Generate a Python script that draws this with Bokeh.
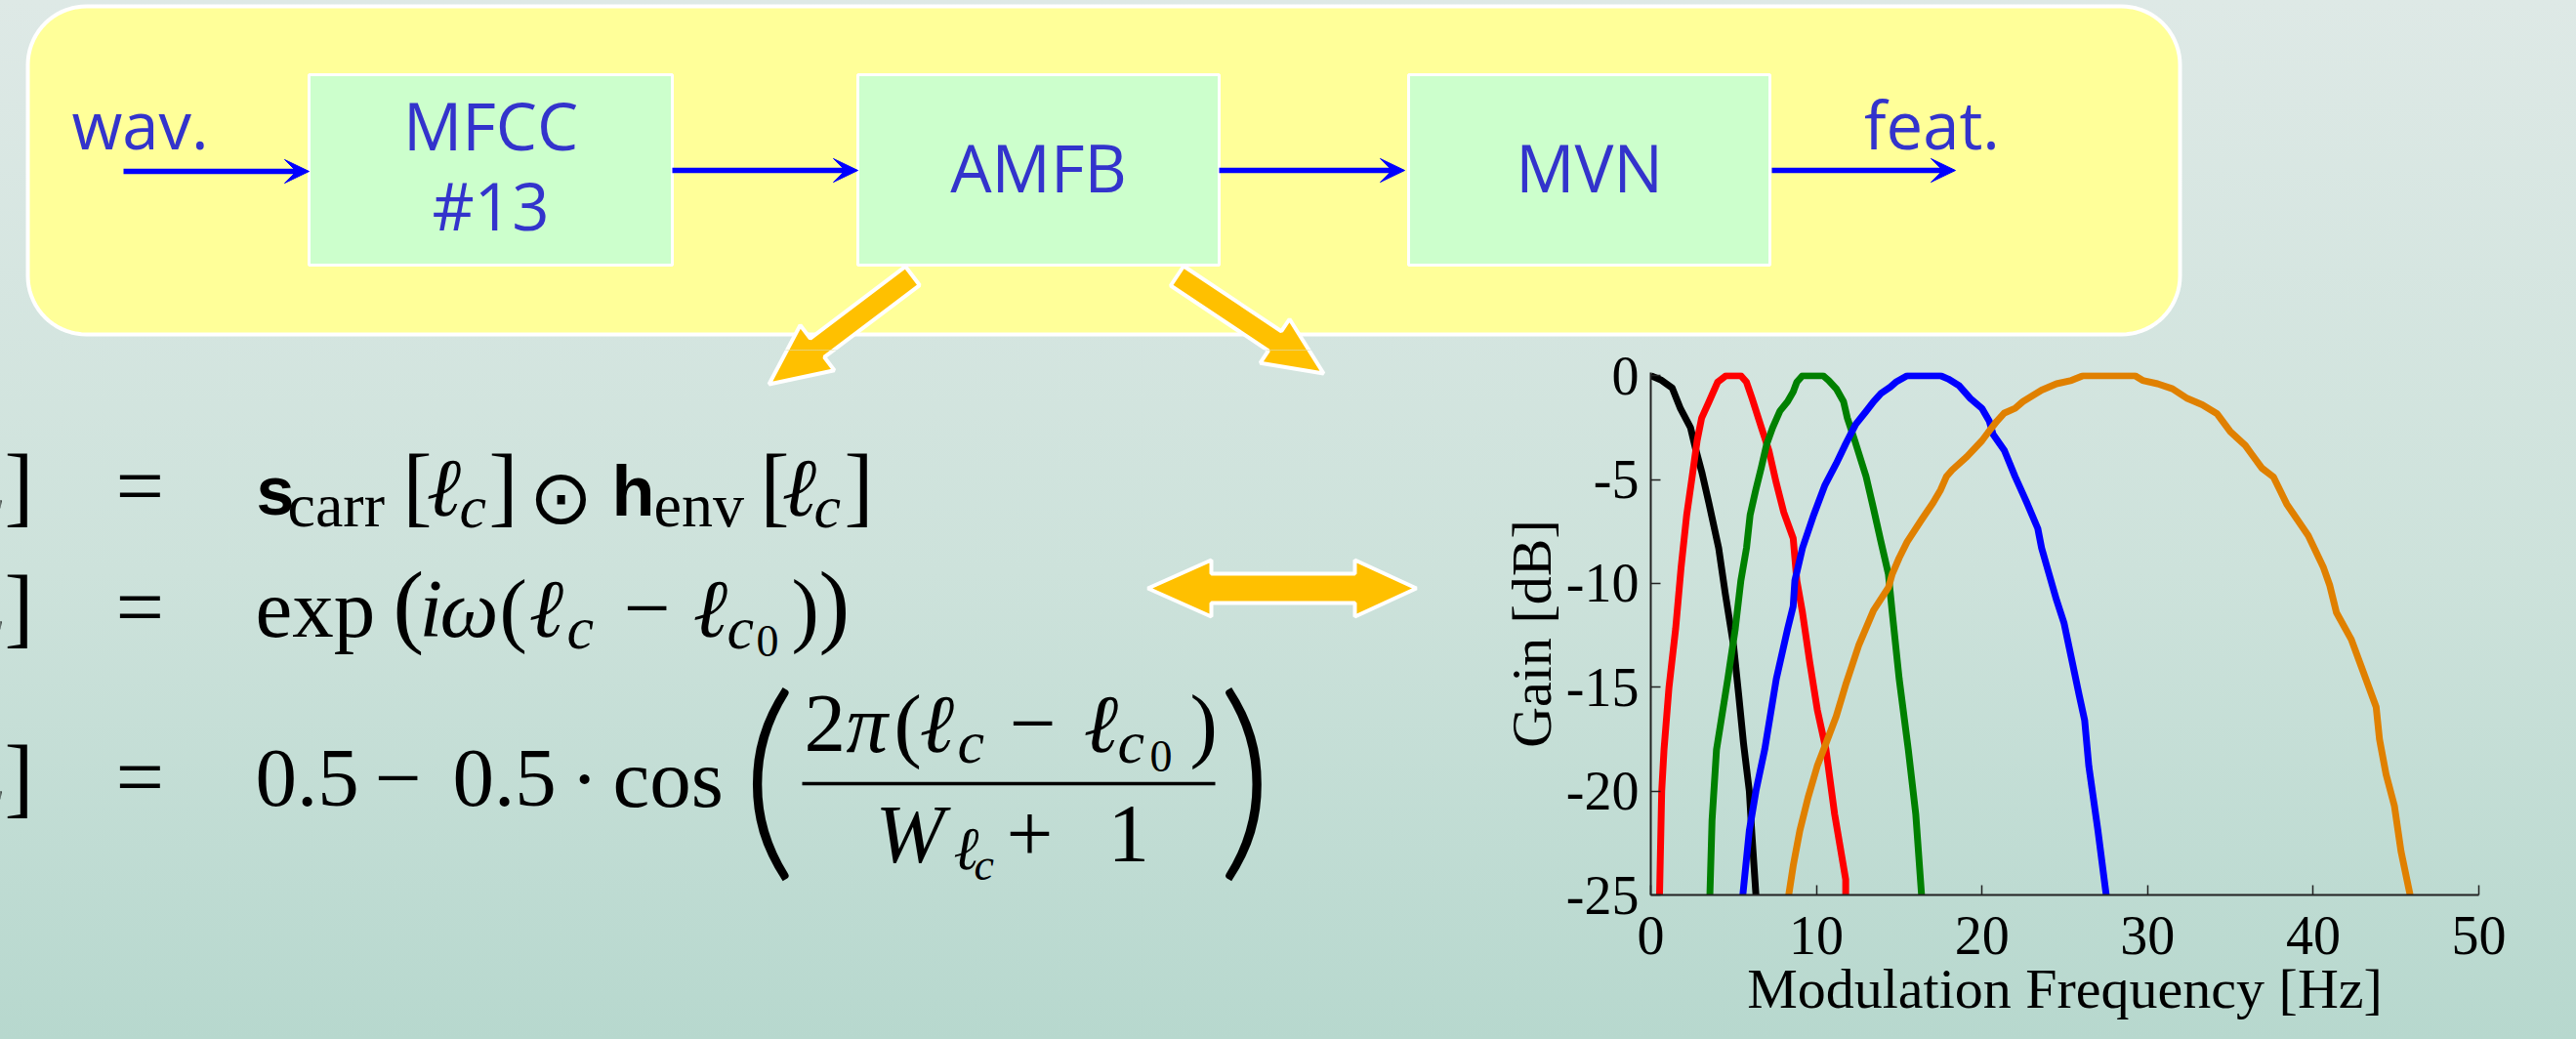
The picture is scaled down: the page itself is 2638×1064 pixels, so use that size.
import math
from bokeh.plotting import figure
from bokeh.models import Range1d, FixedTicker
from bokeh.layouts import column, row
from bokeh.embed import file_html
from bokeh.resources import INLINE
from bokeh.core.properties import value

# ---------------- chart data ----------------
freq_ticks = [0, 10, 20, 30, 40, 50]
gain_ticks = [-25, -20, -15, -10, -5, 0]
gain_tick_labels = ["-25", "-20", "-15", "-10", "-5", "0"]
x_label = "Modulation Frequency [Hz]"
y_label = "Gain [dB]"

black_hz = [0.0, 0.6, 1.3, 1.8, 2.4, 2.7, 3.1, 3.5, 4.1, 4.5, 5.0, 5.3, 5.6, 5.95, 6.1, 6.35]
black_db = [0.0, -0.2, -0.6, -1.6, -2.5, -3.5, -4.7, -6.1, -8.3, -10.5, -13.0, -15.3, -17.7, -20.0, -22.0, -25.0]

red_hz = [0.53, 0.66, 0.8, 1.1, 1.5, 1.83, 2.17, 2.5, 2.8, 3.07, 3.52, 4.04, 4.54, 5.44, 5.78, 6.12,
          6.68, 7.13, 7.58, 8.03, 8.6, 8.82, 9.16, 9.6, 10.06, 10.58, 11.1, 11.77, 11.77]
red_db = [-25.0, -20.0, -18.0, -15.0, -12.2, -9.24, -6.7, -4.86, -3.13, -2.04, -1.25, -0.31, 0.0, 0.0, -0.31, -1.1,
          -2.5, -3.6, -5.17, -6.58, -7.83, -9.87, -11.4, -13.8, -16.1, -18.0, -21.1, -24.25, -25.0]

green_hz = [3.57, 3.7, 3.97, 4.65, 5.1, 5.44, 5.78, 6.0, 6.34, 6.68, 7.0, 7.36, 7.8, 8.26, 8.6, 8.82,
            9.16, 10.4, 10.74, 11.2, 11.64, 11.87, 12.32, 13.0, 13.45, 13.9, 14.35, 14.58, 15.0, 15.55, 16.0, 16.35]
green_db = [-25.0, -21.4, -18.0, -14.6, -12.2, -9.87, -8.3, -6.7, -5.5, -4.4, -3.3, -2.5, -1.7, -1.25, -0.78, -0.31,
            0.0, 0.0, -0.23, -0.63, -1.25, -2.04, -3.13, -4.86, -6.4, -8.0, -9.55, -11.4, -14.6, -18.0, -21.1, -25.0]

blue_hz = [5.56, 5.95, 6.35, 6.88, 7.58, 8.26, 8.6, 8.7, 9.16, 9.84, 10.5, 11.2, 11.76, 12.37, 13.0, 13.45,
           13.9, 14.46, 14.8, 15.48, 17.5, 17.96, 18.6, 19.3, 19.99, 20.44, 20.67, 21.35, 22.0, 22.7, 23.37,
           23.6, 24.05, 24.5, 24.95, 25.4, 25.86, 26.2, 26.45, 27.0, 27.5]
blue_db = [-25.0, -21.9, -20.0, -18.0, -14.6, -12.2, -11.1, -9.87, -8.3, -6.7, -5.3, -4.23, -3.3, -2.35, -1.72, -1.25,
           -0.86, -0.55, -0.31, 0.0, 0.0, -0.16, -0.47, -1.1, -1.57, -2.19, -2.82, -3.6, -4.86, -6.1, -7.36,
           -8.3, -9.55, -10.8, -11.9, -13.6, -15.35, -16.6, -18.8, -21.9, -25.0]

orange_hz = [8.33, 8.6, 9.0, 9.5, 10.05, 10.58, 11.2, 11.8, 12.55, 13.45, 14.35, 14.58, 15.0, 15.48, 16.38,
             17.06, 17.5, 17.85, 18.2, 19.09, 20.0, 20.44, 20.9, 21.35, 22.0, 22.47, 23.6, 24.5, 25.4, 26.1,
             29.24, 29.7, 30.6, 31.5, 32.4, 33.3, 34.2, 35.0, 35.9, 36.3, 36.9, 37.6, 38.0, 38.4, 39.7, 40.6,
             41.0, 41.4, 42.3, 42.9, 43.8, 44.0, 44.4, 44.9, 45.3, 45.85]
orange_db = [-25.0, -23.6, -21.9, -20.3, -18.8, -17.7, -16.4, -14.8, -13.0, -11.3, -10.2, -9.55, -8.77, -8.0, -6.9,
             -6.1, -5.5, -4.86, -4.54, -3.9, -3.13, -2.66, -2.19, -1.8, -1.57, -1.25, -0.7, -0.39, -0.23, 0.0,
             0.0, -0.23, -0.39, -0.63, -1.1, -1.4, -1.84, -2.7, -3.36, -3.8, -4.45, -4.88, -5.53, -6.18, -7.7, -9.2,
             -10.1, -11.4, -12.7, -14.0, -15.95, -17.5, -19.2, -20.7, -22.9, -25.0]

series = [
    (black_hz, black_db, "#000000"),
    (red_hz, red_db, "#ff0000"),
    (green_hz, green_db, "#008000"),
    (blue_hz, blue_db, "#0000ff"),
    (orange_hz, orange_db, "#e08000"),
]

# ---------------- slide texts ----------------
block_texts = ["MFCC", "#13", "AMFB", "MVN"]
io_texts = ["wav.", "feat."]

# ---------------- slide geometry (reference pixel coordinates) ----------------
PAGE_X0, PAGE_X1, PAGE_Y0, PAGE_Y1 = 0, 2638, 0, 1064
SPLIT_Y = 358
SPLIT_X = 1500

BLUE_TXT = "#3333cc"
ORANGE = "#ffc000"
MATH = "Liberation Serif"
SANSB = "Liberation Sans"
# half of (ascent - descent) in em: distance from box centre to baseline
MID_OFF = {"Liberation Serif": 0.3375, "Liberation Sans": 0.3465, "Open Sans": 0.388,
           "DejaVu Sans": 0.346, "Lato Light": 0.387}


def canvas(x0, x1, y0, y1):
    f = figure(frame_width=x1 - x0, frame_height=y1 - y0, x_range=Range1d(x0, x1), y_range=Range1d(y1, y0),
               output_backend="svg", toolbar_location=None, min_border=0,
               x_axis_location=None, y_axis_location=None)
    f.grid.visible = False
    f.outline_line_color = None
    f.background_fill_color = None
    f.border_fill_color = None
    return f


def rounded_rect(x0, y0, x1, y1, r, n=18):
    xs, ys = [], []
    corners = [(x1 - r, y0 + r, -90), (x1 - r, y1 - r, 0), (x0 + r, y1 - r, 90), (x0 + r, y0 + r, 180)]
    for cx, cy, a0 in corners:
        for k in range(n + 1):
            a = math.radians(a0 + 90.0 * k / n)
            xs.append(cx + r * math.cos(a))
            ys.append(cy + r * math.sin(a))
    return xs, ys


def block_arrow(sx, sy, tx, ty, ws, wh, lh):
    dx, dy = tx - sx, ty - sy
    L = math.hypot(dx, dy)
    ux, uy = dx / L, dy / L
    nx, ny = -uy, ux
    bx, by = tx - ux * lh, ty - uy * lh
    pts = [(sx + nx * ws / 2, sy + ny * ws / 2), (bx + nx * ws / 2, by + ny * ws / 2),
           (bx + nx * wh / 2, by + ny * wh / 2), (tx, ty),
           (bx - nx * wh / 2, by - ny * wh / 2), (bx - nx * ws / 2, by - ny * ws / 2),
           (sx - nx * ws / 2, sy - ny * ws / 2)]
    return [p[0] for p in pts], [p[1] for p in pts]


def put(f, x, y, txt, size, font=MATH, style="normal", align="left", color="black", mid=False):
    ym = y if mid else y - MID_OFF.get(font, 0.34) * size
    f.text(x=[x], y=[ym], text=[txt], text_font=value(font), text_font_size=f"{size}px",
           text_font_style=style, text_align=align, text_baseline="middle", text_color=color)


orange_arrows = [
    block_arrow(934, 282, 787, 393, 24, 58, 62),
    block_arrow(1205, 282, 1355, 382, 24, 54, 60),
]

# ---------------- top figure: diagram ----------------
top = canvas(PAGE_X0, PAGE_X1, PAGE_Y0, SPLIT_Y)
bx, by = rounded_rect(28, 6, 2232, 342, 60)
top.patch(bx, by, fill_color="#ffff99", line_color="white", line_width=4)

blocks = [(316, 688), (878, 1248), (1442, 1812)]
top.quad(left=[b[0] for b in blocks], right=[b[1] for b in blocks], top=[76] * 3, bottom=[271] * 3,
         fill_color="#ccffcc", line_color="white", line_width=3)

blue_arrows = [(126, 316, 175), (688, 878, 174), (1248, 1438, 174), (1814, 2002, 174)]
for x0, x1, yy in blue_arrows:
    top.segment(x0=[x0], y0=[yy], x1=[x1 - 12], y1=[yy], line_color="#0000ff", line_width=5.5)
    top.patch([x1, x1 - 25, x1 - 13, x1 - 25], [yy, yy - 12, yy, yy + 12],
              fill_color="#0000ff", line_color="#0000ff", line_width=1)

put(top, 143, 152, io_texts[0], 67, font="Open Sans", align="center", color=BLUE_TXT)
put(top, 502, 153, block_texts[0], 67, font="Open Sans", align="center", color=BLUE_TXT)
put(top, 502, 235, block_texts[1], 67, font="Open Sans", align="center", color=BLUE_TXT)
put(top, 1063, 196, block_texts[2], 67, font="Open Sans", align="center", color=BLUE_TXT)
put(top, 1627, 196, block_texts[3], 67, font="Open Sans", align="center", color=BLUE_TXT)
put(top, 1978, 152, io_texts[1], 67, font="Open Sans", align="center", color=BLUE_TXT)

for ax, ay in orange_arrows:
    top.patch(ax, ay, fill_color=ORANGE, line_color="white", line_width=4)

# ---------------- bottom-left figure: equations ----------------
left = canvas(PAGE_X0, SPLIT_X, SPLIT_Y, PAGE_Y1)
for ax, ay in orange_arrows:
    left.patch(ax, ay, fill_color=ORANGE, line_color="white", line_width=4)

# double arrow
dy0, dl, dr = 602, 1175, 1450
left.patch([dl, dl + 65, dl + 65, dr - 63, dr - 63, dr, dr - 63, dr - 63, dl + 65, dl + 65],
           [dy0, dy0 - 29, dy0 - 15, dy0 - 15, dy0 - 29, dy0, dy0 + 29, dy0 + 15, dy0 + 15, dy0 + 29],
           fill_color=ORANGE, line_color="white", line_width=4)

# left-hand sides (cut off at the page edge)
for B in (527, 651, 825):
    put(left, 2, B + 12, "c", 62, style="italic", align="right")
    put(left, 4, B, "]", 90)

# row 1
B1 = 527
put(left, 118, B1, "=", 88)
put(left, 262, B1, "s", 70, font=SANSB, style="bold")
put(left, 294, B1 + 12, "carr", 64)
put(left, 412, B1, "[", 90)
put(left, 436, B1, "ℓ", 85, style="italic")
put(left, 470, B1 + 12, "c", 62, style="italic")
put(left, 500, B1, "]", 90)
put(left, 574, 508, "⊙", 78, font="DejaVu Sans", align="center", mid=True)
put(left, 626, B1, "h", 72, font=SANSB, style="bold")
put(left, 669, B1 + 12, "env", 64)
put(left, 778, B1, "[", 90)
put(left, 800, B1, "ℓ", 85, style="italic")
put(left, 833, B1 + 12, "c", 62, style="italic")
put(left, 864, B1, "]", 90)

# row 2
B2 = 651
put(left, 118, B2, "=", 88)
put(left, 261, B2, "exp", 85)
put(left, 402, B2, "(", 95)
put(left, 429, B2, "i", 85, style="italic")
put(left, 450, B2, "ω", 85, style="italic")
put(left, 511, B2, "(", 85)
put(left, 541, B2, "ℓ", 85, style="italic")
put(left, 580, B2 + 12, "c", 62, style="italic")
put(left, 638, B2, "−", 85)
put(left, 709, B2, "ℓ", 85, style="italic")
put(left, 744, B2 + 12, "c", 62, style="italic")
put(left, 774, B2 + 21, "0", 46)
put(left, 810, B2, ")", 85)
put(left, 838, B2, ")", 95)

# row 3
B3 = 825
put(left, 118, B3, "=", 88)
put(left, 261, B3, "0.5", 85)
put(left, 383, B3, "−", 85)
put(left, 463, B3, "0.5", 85)
put(left, 584, B3, "·", 85)
put(left, 627, B3, "cos", 85)
put(left, 787, 786, "(", 222, font="Lato Light", align="center", mid=True)
put(left, 823, 769, "2", 85)
put(left, 866, 769, "π", 85, style="italic")
put(left, 915, 769, "(", 85)
put(left, 941, 769, "ℓ", 85, style="italic")
put(left, 980, 780, "c", 62, style="italic")
put(left, 1033, 769, "−", 85)
put(left, 1109, 769, "ℓ", 85, style="italic")
put(left, 1144, 780, "c", 62, style="italic")
put(left, 1177, 790, "0", 46)
put(left, 1218, 769, ")", 85)
left.segment(x0=[821], y0=[802], x1=[1244], y1=[802], line_color="black", line_width=3.5)
put(left, 896, 882, "W", 85, style="italic")
put(left, 976, 889, "ℓ", 62, style="italic")
put(left, 997, 901, "c", 46, style="italic")
put(left, 1030, 882, "+", 85)
put(left, 1134, 882, "1", 85)
put(left, 1275, 786, ")", 222, font="Lato Light", align="center", mid=True)

# ---------------- chart ----------------
p = figure(width=PAGE_X1 - SPLIT_X, height=PAGE_Y1 - SPLIT_Y,
           x_range=Range1d(0, 50), y_range=Range1d(-25, 0.15),
           output_backend="svg", toolbar_location=None,
           min_border_left=190, min_border_right=100, min_border_top=23, min_border_bottom=148)
p.grid.visible = False
p.outline_line_color = None
p.background_fill_color = None
p.border_fill_color = None

for xs, ys, col in series:
    p.line(xs, ys, line_color=col, line_width=7, line_join="round")

p.xaxis.ticker = FixedTicker(ticks=freq_ticks)
p.yaxis.ticker = FixedTicker(ticks=gain_ticks)
p.yaxis.major_label_overrides = {t: l for t, l in zip(gain_ticks, gain_tick_labels)}
p.xaxis.axis_label = x_label
p.yaxis.axis_label = y_label
for ax in (p.xaxis, p.yaxis):
    ax.minor_tick_line_color = None
    ax.major_tick_in = 10
    ax.major_tick_out = 0
    ax.major_tick_line_color = "#222222"
    ax.major_tick_line_width = 1.5
    ax.axis_line_color = "#222222"
    ax.axis_line_width = 2
    ax.major_label_text_font = "Liberation Serif"
    ax.major_label_text_font_size = "56px"
    ax.major_label_text_color = "black"
    ax.axis_label_text_font = "Liberation Serif"
    ax.axis_label_text_font_size = "58px"
    ax.axis_label_text_font_style = "normal"
    ax.axis_label_text_color = "black"
p.xaxis.major_label_standoff = 22
p.xaxis.axis_label_standoff = 0
p.yaxis.major_label_standoff = 12
p.yaxis.axis_label_standoff = 0

for f in (top, left, p):
    if "frame_align" in f.properties():
        f.frame_align = False

layout = column(top, row(left, p),
                styles={"background": "linear-gradient(180deg, #dee9e6 0%, #cde2db 55%, #b7d8ce 100%)"})

open("out.html", "w").write(file_html(layout, INLINE))
